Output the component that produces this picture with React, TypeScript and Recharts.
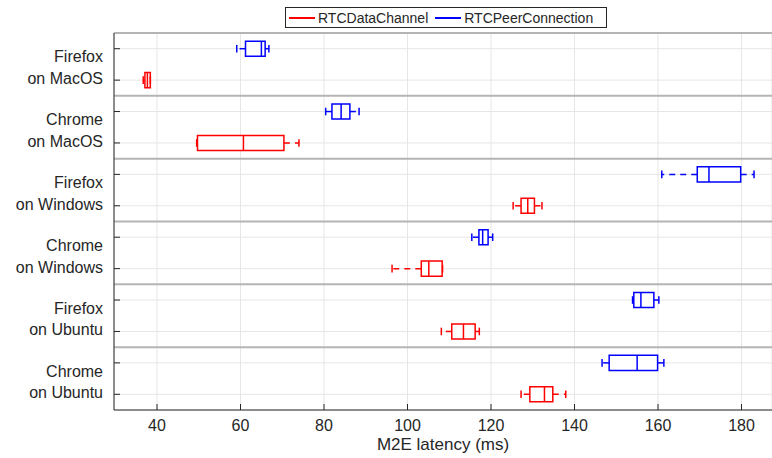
import React from "react";
import {
  ComposedChart,
  XAxis,
  YAxis,
  CartesianGrid,
  Scatter,
  ReferenceArea,
  ReferenceLine,
} from "recharts";

const GROUP_BROWSERS = ["Firefox", "Chrome", "Firefox", "Chrome", "Firefox", "Chrome"];
const GROUP_SYSTEMS = ["on MacOS", "on MacOS", "on Windows", "on Windows", "on Ubuntu", "on Ubuntu"];
const SERIES_NAMES = ["RTCDataChannel", "RTCPeerConnection"];

// [min, q1, median, q3, max] per group, top to bottom
const PEER_STATS = [
  [59.1, 61.2, 65.0, 65.9, 66.8],
  [80.4, 81.9, 84.1, 86.2, 88.4],
  [160.9, 169.4, 172.2, 179.8, 183.0],
  [115.4, 117.1, 118.0, 119.3, 120.4],
  [153.9, 154.2, 155.9, 159.0, 160.2],
  [146.6, 148.3, 155.0, 159.9, 161.4],
];
const CHANNEL_STATS = [
  [36.7, 37.1, 37.7, 38.4, 38.4],
  [49.5, 49.7, 60.7, 70.4, 74.0],
  [125.3, 127.2, 128.8, 130.4, 132.2],
  [96.3, 103.3, 105.1, 108.3, 108.4],
  [108.1, 110.6, 113.4, 116.2, 117.2],
  [127.2, 129.3, 132.8, 134.8, 137.9],
];

const X_TICKS = [40, 60, 80, 100, 120, 140, 160, 180];
const X_DOMAIN = [29.7, 187.3];

const COLORS = ["#ff0000", "#0000ff"]; // by series index
const TEXT = "#262626";
const FONT = "'Liberation Sans', Arial, Helvetica, sans-serif";

type Row = {
  row: number;
  series: number;
  min: number;
  q1: number;
  median: number;
  q3: number;
  max: number;
};

const rows: Row[] = [];
GROUP_BROWSERS.forEach((_, g) => {
  const p = PEER_STATS[g];
  const c = CHANNEL_STATS[g];
  rows.push({ row: 2 * g + 0.5, series: 1, min: p[0], q1: p[1], median: p[2], q3: p[3], max: p[4] });
  rows.push({ row: 2 * g + 1.5, series: 0, min: c[0], q1: c[1], median: c[2], q3: c[3], max: c[4] });
});

const medianPts = rows.map((r) => ({ x: r.median, y: r.row, series: r.series }));
const capPts = rows.flatMap((r) => [
  { x: r.min, y: r.row, series: r.series },
  { x: r.max, y: r.row, series: r.series },
]);
const rowTicks = rows.map((r) => r.row);
const separators = [0, 2, 4, 6, 8, 10];

const BOX_HALF = 0.24;

function MedianShape(props: any) {
  const { cx, cy, payload } = props;
  return (
    <line x1={cx} x2={cx} y1={cy - 7.5} y2={cy + 7.5} stroke={COLORS[payload.series]} strokeWidth={1.5} />
  );
}

function CapShape(props: any) {
  const { cx, cy, payload } = props;
  return (
    <line x1={cx} x2={cx} y1={cy - 3.8} y2={cy + 3.8} stroke={COLORS[payload.series]} strokeWidth={1.5} />
  );
}

function YTick(props: any) {
  const { x, y, payload } = props;
  const v = payload.value as number;
  const g = Math.floor(v / 2);
  const first = v % 2 < 1;
  return (
    <g>
      <line x1={x} x2={x + 6} y1={y} y2={y} stroke={TEXT} strokeWidth={1} />
      {first && (
        <text textAnchor="end" fontSize={16} fill={TEXT} fontFamily={FONT}>
          <tspan x={x - 11} y={y + 13.7}>{GROUP_BROWSERS[g]}</tspan>
          <tspan x={x - 11} y={y + 35.3}>{GROUP_SYSTEMS[g]}</tspan>
        </text>
      )}
    </g>
  );
}

function XTickBottom(props: any) {
  const { x, y, payload } = props;
  return (
    <g>
      <line x1={x} x2={x} y1={y} y2={y - 6} stroke={TEXT} strokeWidth={1} />
      <text x={x} y={y + 21} textAnchor="middle" fontSize={16} fill={TEXT} fontFamily={FONT}>
        {payload.value}
      </text>
    </g>
  );
}

function XTickTop(props: any) {
  const { x, y } = props;
  return <line x1={x} x2={x} y1={y} y2={y + 6} stroke={TEXT} strokeWidth={1} />;
}

export default function App() {
  return (
    <div style={{ position: "absolute", left: 0, top: 0, width: 772, height: 458, background: "#fff" }}>
      <ComposedChart
        width={772}
        height={458}
        margin={{ top: 0, right: 0, bottom: 0, left: 0 }}
      >
        <CartesianGrid stroke="#e6e6e6" strokeWidth={1} />
        <XAxis
          type="number"
          dataKey="x"
          domain={X_DOMAIN}
          ticks={X_TICKS}
          allowDataOverflow
          height={48}
          tickSize={0}
          tickMargin={0}
          tickLine={false}
          axisLine={{ stroke: TEXT, strokeWidth: 1 }}
          tick={<XTickBottom />}
          interval={0}
          label={{
            value: "M2E latency (ms)",
            position: "insideBottom",
            offset: 8,
            fill: TEXT,
            fontSize: 17,
            fontFamily: FONT,
          }}
        />
        <XAxis
          xAxisId="top"
          orientation="top"
          type="number"
          domain={X_DOMAIN}
          ticks={X_TICKS}
          allowDataOverflow
          height={33}
          tickSize={0}
          tickMargin={0}
          tickLine={false}
          axisLine={false}
          tick={<XTickTop />}
          interval={0}
        />
        <YAxis
          type="number"
          dataKey="y"
          domain={[0, 12]}
          reversed
          ticks={rowTicks}
          interval={0}
          width={114}
          tickSize={0}
          tickMargin={0}
          tickLine={false}
          axisLine={{ stroke: TEXT, strokeWidth: 1 }}
          tick={<YTick />}
        />
        {separators.map((s) => (
          <ReferenceLine key={`sep${s}`} y={s} stroke="#b4b4b4" strokeWidth={2} />
        ))}
        {rows.map((r) => (
          <ReferenceLine
            key={`wl${r.row}`}
            segment={[{ x: r.q1, y: r.row }, { x: r.min, y: r.row }]}
            stroke={COLORS[r.series]}
            strokeWidth={1.5}
            strokeDasharray="6 5"
            ifOverflow="visible"
          />
        ))}
        {rows.map((r) => (
          <ReferenceLine
            key={`wu${r.row}`}
            segment={[{ x: r.q3, y: r.row }, { x: r.max, y: r.row }]}
            stroke={COLORS[r.series]}
            strokeWidth={1.5}
            strokeDasharray="6 5"
            ifOverflow="visible"
          />
        ))}
        {rows.map((r) => (
          <ReferenceArea
            key={`box${r.row}`}
            x1={r.q1}
            x2={r.q3}
            y1={r.row - BOX_HALF}
            y2={r.row + BOX_HALF}
            fill="#ffffff"
            fillOpacity={1}
            stroke={COLORS[r.series]}
            strokeWidth={1.5}
            ifOverflow="visible"
          />
        ))}
        <Scatter data={medianPts} dataKey="x" shape={<MedianShape />} isAnimationActive={false} />
        <Scatter data={capPts} dataKey="x" shape={<CapShape />} isAnimationActive={false} />
      </ComposedChart>
      <div
        style={{
          position: "absolute",
          left: 285,
          top: 7,
          width: 320,
          height: 19,
          border: `1px solid ${TEXT}`,
          background: "#fff",
          display: "flex",
          alignItems: "center",
          fontFamily: FONT,
          fontSize: 14,
          color: TEXT,
          whiteSpace: "nowrap",
        }}
      >
        {SERIES_NAMES.map((name, i) => (
          <div key={name} style={{ display: "flex", alignItems: "center", marginLeft: i === 0 ? 3 : 7 }}>
            <div style={{ width: 26, height: 2, background: COLORS[i], marginRight: 3 }} />
            <span>{name}</span>
          </div>
        ))}
      </div>
    </div>
  );
}
